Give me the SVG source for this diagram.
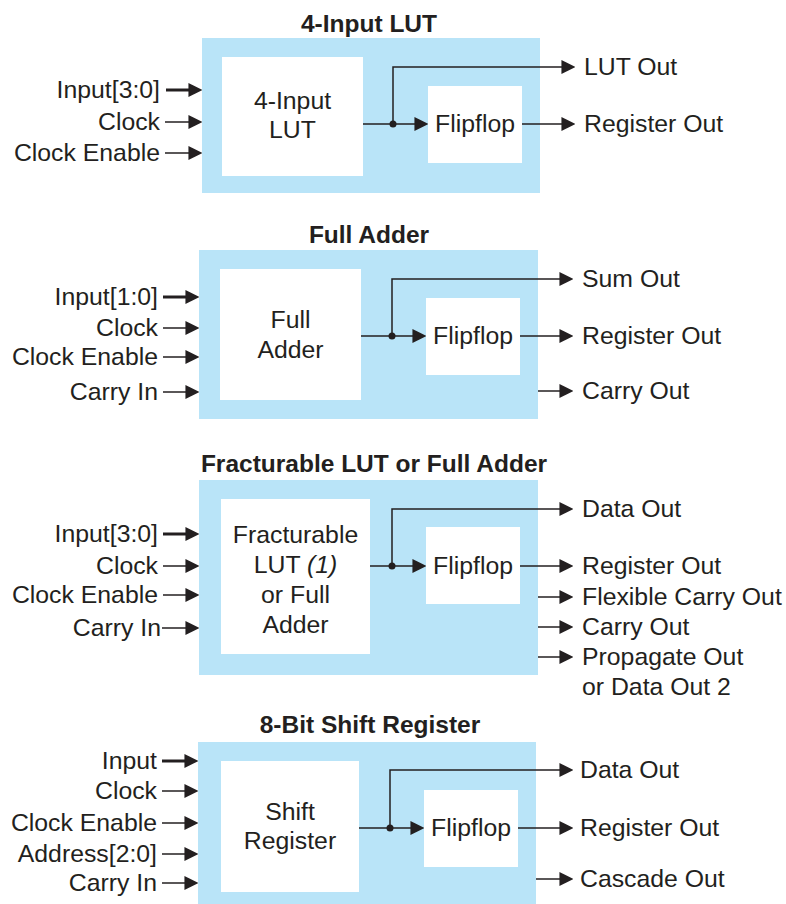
<svg xmlns="http://www.w3.org/2000/svg" width="786" height="904" viewBox="0 0 786 904">
<defs>
<style>
.bg{fill:#b9e4f8}
.box{fill:#ffffff}
text{font-family:"Liberation Sans",Arial,sans-serif;font-size:24.8px;fill:#231f20}
.t{font-weight:bold;text-anchor:middle;font-size:24.5px}
.c{text-anchor:middle}
.r{text-anchor:end}
.w{stroke:#231f20;stroke-width:1.5;fill:none;marker-end:url(#ah)}
.k{stroke:#231f20;stroke-width:3;fill:none;marker-end:url(#ah)}
.dot{fill:#231f20}
</style>
<marker id="ah" markerUnits="userSpaceOnUse" markerWidth="14" markerHeight="14" viewBox="0 0 13 13" refX="7" refY="6.5" orient="auto">
<path d="M0,0 L13,6.5 L0,13 z" fill="#231f20"/>
</marker>
</defs>

<!-- Panel 1 -->
<g id="panel1">
<text class="t" x="369" y="31.5">4-Input LUT</text>
<rect class="bg" x="202" y="38" width="338" height="155"/>
<g id="lut1"><rect class="box" x="222" y="57" width="141" height="119"/>
<text class="c" x="292.5" y="109">4-Input</text><text class="c" x="292.5" y="138">LUT</text></g>
<g id="ff1"><rect class="box" x="428" y="86" width="94" height="77"/>
<text class="c" x="475" y="132">Flipflop</text></g>
<g id="labels1">
<text class="r" x="160" y="98">Input[3:0]</text>
<text class="r" x="160" y="130">Clock</text>
<text class="r" x="160" y="161">Clock Enable</text>
<text x="584" y="75">LUT Out</text>
<text x="584" y="132">Register Out</text>
</g>
</g>

<!-- Panel 2 -->
<g id="panel2">
<text class="t" x="369" y="243">Full Adder</text>
<rect class="bg" x="199" y="250" width="339" height="169"/>
<g id="fa2"><rect class="box" x="220" y="269" width="141" height="131"/>
<text class="c" x="290.5" y="328">Full</text><text class="c" x="290.5" y="358">Adder</text></g>
<g id="ff2"><rect class="box" x="426" y="298" width="94" height="77"/>
<text class="c" x="473" y="344">Flipflop</text></g>
<g id="labels2">
<text class="r" x="158" y="305">Input[1:0]</text>
<text class="r" x="158" y="336">Clock</text>
<text class="r" x="158" y="365">Clock Enable</text>
<text class="r" x="158" y="400">Carry In</text>
<text x="582" y="287">Sum Out</text>
<text x="582" y="344">Register Out</text>
<text x="582" y="399">Carry Out</text>
</g>
</g>

<!-- Panel 3 -->
<g id="panel3">
<text class="t" x="374" y="471.5">Fracturable LUT or Full Adder</text>
<rect class="bg" x="199" y="480" width="339" height="195"/>
<g id="frac3"><rect class="box" x="221" y="499" width="149" height="155"/>
<text class="c" x="295.5" y="543">Fracturable</text>
<text class="c" x="295.5" y="573">LUT <tspan font-style="italic">(1)</tspan></text>
<text class="c" x="295.5" y="603">or Full</text>
<text class="c" x="295.5" y="633">Adder</text></g>
<g id="ff3"><rect class="box" x="426" y="527" width="94" height="77"/>
<text class="c" x="473" y="574">Flipflop</text></g>
<g id="labels3">
<text class="r" x="158" y="542">Input[3:0]</text>
<text class="r" x="158" y="574">Clock</text>
<text class="r" x="158" y="603">Clock Enable</text>
<text class="r" x="161" y="636">Carry In</text>
<text x="582" y="517">Data Out</text>
<text x="582" y="574">Register Out</text>
<text x="582" y="605">Flexible Carry Out</text>
<text x="582" y="635">Carry Out</text>
<text x="582" y="665">Propagate Out</text>
<text x="582" y="695">or Data Out 2</text>
</g>
</g>

<!-- Panel 4 -->
<g id="panel4">
<text class="t" x="370" y="733">8-Bit Shift Register</text>
<rect class="bg" x="198" y="742" width="338" height="162"/>
<g id="sr4"><rect class="box" x="221" y="761" width="138" height="131"/>
<text class="c" x="290" y="820">Shift</text><text class="c" x="290" y="849">Register</text></g>
<g id="ff4"><rect class="box" x="424" y="790" width="94" height="77"/>
<text class="c" x="471" y="836">Flipflop</text></g>
<g id="labels4">
<text class="r" x="157" y="769">Input</text>
<text class="r" x="157" y="799">Clock</text>
<text class="r" x="157" y="831">Clock Enable</text>
<text class="r" x="157" y="862">Address[2:0]</text>
<text class="r" x="157" y="891">Carry In</text>
<text x="580" y="778">Data Out</text>
<text x="580" y="836">Register Out</text>
<text x="580" y="887">Cascade Out</text>
</g>
</g>

<!-- Connectors -->
<g id="connectors">
<!-- panel 1 -->
<path class="k" d="M166,90 H196"/>
<path class="w" d="M165,122 H196"/>
<path class="w" d="M165,153 H196"/>
<path class="w" d="M363,124 H422"/>
<path class="w" d="M393,124 V67 H569"/>
<path class="w" d="M522,124 H569"/>
<circle class="dot" cx="393" cy="124" r="3.5"/>
<!-- panel 2 -->
<path class="k" d="M163,297 H193"/>
<path class="w" d="M163,328 H193"/>
<path class="w" d="M163,357 H193"/>
<path class="w" d="M163,392 H193"/>
<path class="w" d="M361,336 H420"/>
<path class="w" d="M392,336 V279 H567"/>
<path class="w" d="M520,336 H567"/>
<path class="w" d="M538,391 H567"/>
<circle class="dot" cx="392" cy="336" r="3.5"/>
<!-- panel 3 -->
<path class="k" d="M163,534 H193"/>
<path class="w" d="M163,566 H193"/>
<path class="w" d="M163,595 H193"/>
<path class="w" d="M162,628 H193"/>
<path class="w" d="M370,566 H420"/>
<path class="w" d="M392,566 V509 H567"/>
<path class="w" d="M520,566 H567"/>
<path class="w" d="M538,597 H567"/>
<path class="w" d="M538,627 H567"/>
<path class="w" d="M538,657 H567"/>
<circle class="dot" cx="392" cy="566" r="3.5"/>
<!-- panel 4 -->
<path class="k" d="M162,761 H192"/>
<path class="w" d="M162,791 H192"/>
<path class="w" d="M162,823 H192"/>
<path class="w" d="M162,854 H192"/>
<path class="w" d="M162,883 H192"/>
<path class="w" d="M359,828 H418"/>
<path class="w" d="M390,828 V770 H567"/>
<path class="w" d="M518,828 H567"/>
<path class="w" d="M536,879 H567"/>
<circle class="dot" cx="390" cy="828" r="3.5"/>
</g>
</svg>
